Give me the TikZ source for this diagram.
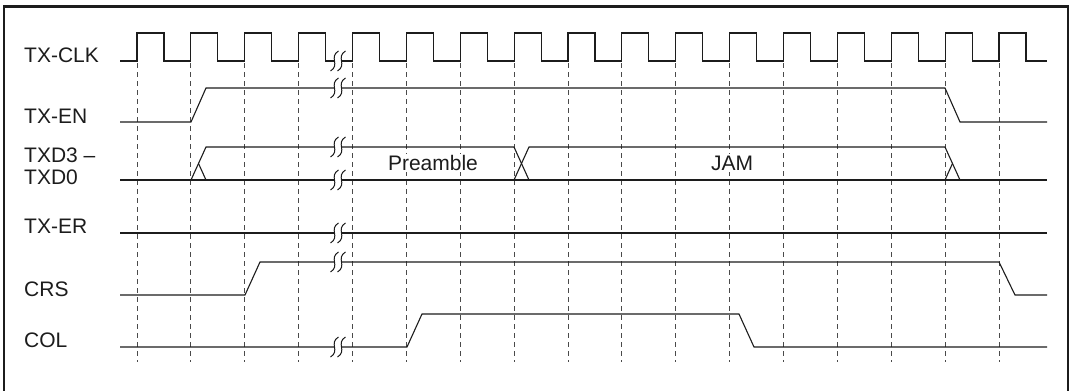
\documentclass[tikz,border=0pt]{standalone}
\usepackage{fontspec}
\setmainfont{Liberation Sans}
\usepackage{tikz}
\definecolor{ink}{HTML}{1C1C1C}
\definecolor{dashgray}{HTML}{4A4A4A}
\tikzset{wave/.style={draw=ink,line width=1.1pt},guide/.style={draw=dashgray,line width=1pt,dash pattern=on 5pt off 4pt},lbl/.style={anchor=west,inner sep=0pt,font=\fontsize{21}{23}\selectfont,text=ink},busname/.style={inner sep=1.5pt,fill=white,font=\fontsize{21}{23}\selectfont,text=ink},brk/.style={draw=ink,line width=1pt}}

\begin{document}
\begin{tikzpicture}[x=1pt,y=-1pt]
\useasboundingbox (0,0) rectangle (1072,391);
\draw[line width=2.2pt,draw=ink] (4,391)--(4,6.5)--(1068,6.5)--(1068,391);
% signal names
\node[lbl] (clk) at (24,55){TX-CLK};
\node[lbl] (en) at (24,116){TX-EN};
\node[lbl] (txda) at (24,155){TXD3 --};
\node[lbl] (txdb) at (24,177){TXD0};
\node[lbl] (er) at (24,226){TX-ER};
\node[lbl] (crs) at (24,289){CRS};
\node[lbl] (col) at (24,340){COL};
% clock edges
\foreach \k in {0,...,16}{\draw[guide] ({137+53.875*\k},63)--++(0,299);}
\draw[wave] (120,61) \foreach \k in {0,...,16}{--({137+53.875*\k},61)--++(0,-28)--++(27,0)--++(0,28)} --(1047,61);
% enables and data
\draw[wave] (120,122)--(191,122)--(206,88)--(945,88)--(960,122)--(1047,122);
\draw[wave] (120,180)--(1047,180);
\draw[wave] (191,180)--(206,147)--(514,147)--(529,180);
\draw[wave] (198.5,163.5)--(206,180);
\draw[wave] (514,180)--(529,147)--(945,147)--(960,180);
\draw[wave] (952.5,163.5)--(945,180);
\node[busname] (pre) at (433,163){Preamble};
\node[busname] (jam) at (732,163){JAM};
\draw[wave] (120,233)--(1047,233);
\draw[wave] (120,295)--(245,295)--(260,262)--(999,262)--(1015,295)--(1047,295);
\draw[wave] (120,347)--(407,347)--(422,314)--(739,314)--(754,347)--(1047,347);
% time breaks
\foreach \y in {61,88,147,180,233,262,347}{
  \fill[white] (334.5,\y-2) rectangle (341.5,\y+2);
  \foreach \c in {334.5,341.5}{\draw[brk] (\c+4,\y-10) .. controls (\c-6,\y-4) and (\c+6,\y+4) .. (\c-4,\y+10);}
}
\end{tikzpicture}
\end{document}
